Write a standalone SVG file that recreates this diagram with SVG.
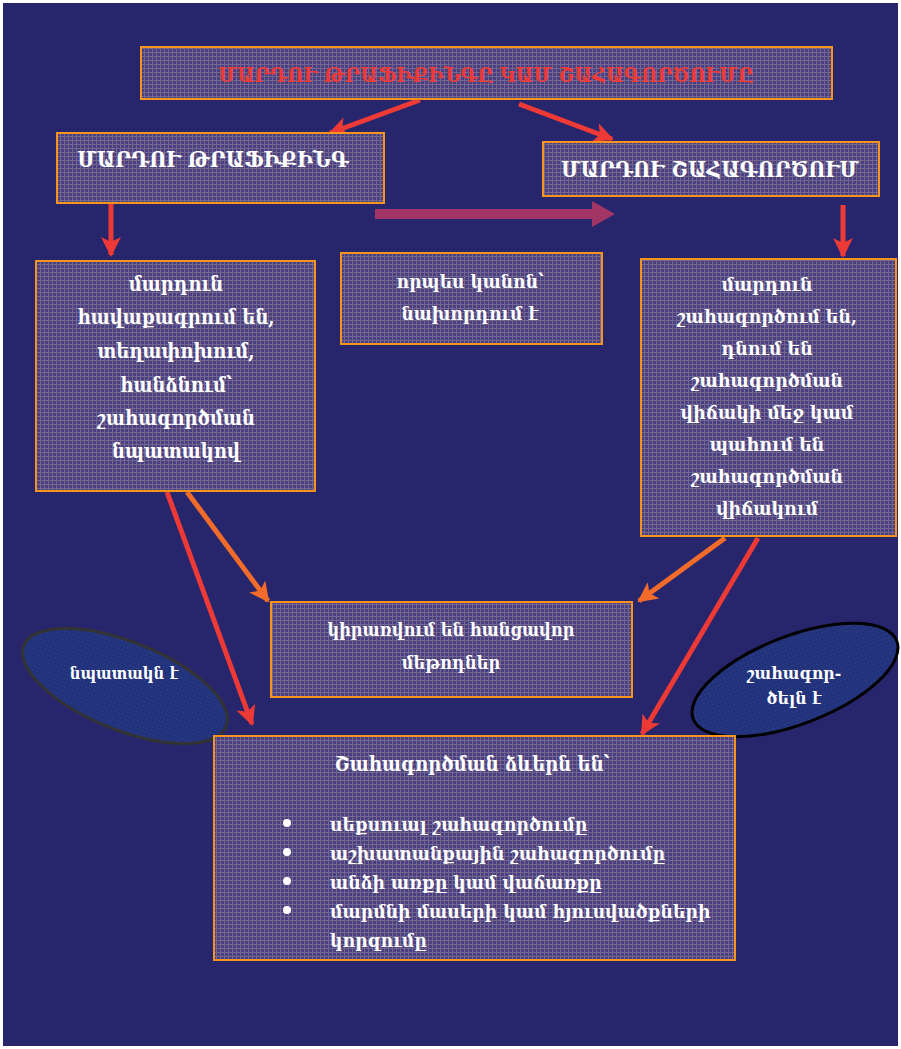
<svg xmlns="http://www.w3.org/2000/svg" width="901" height="1049" viewBox="0 0 901 1049">
<defs>
<pattern id="grid" width="4" height="4" patternUnits="userSpaceOnUse">
<rect width="4" height="4" fill="#4a3f80"/>
<rect x="0" y="0" width="4" height="1" fill="#74678f"/>
<rect x="0" y="0" width="1" height="4" fill="#74678f"/>
</pattern>
<pattern id="dots" width="4" height="4" patternUnits="userSpaceOnUse">
<rect width="4" height="4" fill="#22337c"/>
<rect x="1" y="1" width="1" height="1" fill="#34479a"/>
</pattern>
<marker id="ahR" viewBox="0 0 10 10" refX="9" refY="5" markerWidth="4.4" markerHeight="4" orient="auto" markerUnits="strokeWidth">
<path d="M0,0 L10,5 L0,10 L2.5,5 z" fill="#ee3a36"/>
</marker>
<marker id="ahO" viewBox="0 0 10 10" refX="9" refY="5" markerWidth="4.4" markerHeight="4" orient="auto" markerUnits="strokeWidth">
<path d="M0,0 L10,5 L0,10 L2.5,5 z" fill="#f26b2a"/>
</marker>
<style>
.box{fill:url(#grid);stroke:#f7941d;stroke-width:2}
.t{font-family:"DejaVu Serif Condensed","DejaVu Serif",serif;font-stretch:condensed;font-weight:bold;fill:#ffffff;text-anchor:middle}
.red{stroke:#ee3a36;stroke-width:5;fill:none;marker-end:url(#ahR)}
.org{stroke:#f26b2a;stroke-width:5;fill:none;marker-end:url(#ahO)}
.ell{fill:url(#dots);stroke-width:3}
</style>
</defs>
<rect x="0" y="0" width="901" height="1049" fill="#ffffff"/>
<rect x="3" y="3" width="895" height="1043" fill="#27266d"/>

<g id="connectors">
<line class="red" x1="420" y1="100" x2="330" y2="133"/>
<line class="red" x1="519" y1="104" x2="612" y2="139"/>
<line class="red" x1="111" y1="204" x2="111" y2="255"/>
<line class="red" x1="843" y1="205" x2="843" y2="256"/>
<path d="M375,209 L592,209 L592,201 L615,214 L592,227 L592,219 L375,219 z" fill="#a33466"/>
<line class="red" x1="167" y1="492" x2="252" y2="724"/>
<line class="org" x1="187" y1="492" x2="268" y2="601"/>
<line class="org" x1="725" y1="538" x2="639" y2="601"/>
<line class="red" x1="758" y1="538" x2="642" y2="734"/>
</g>

<g id="n-top">
<rect class="box" x="141" y="47" width="691" height="52"/>
<text class="t" x="486" y="82" font-size="21" style="fill:#ee3a36">ՄԱՐԴՈՒ ԹՐԱՖԻՔԻՆԳԸ ԿԱՄ ՇԱՀԱԳՈՐԾՈՒՄԸ</text>
</g>
<g id="n-trafficking">
<rect class="box" x="57" y="133" width="327" height="70"/>
<text class="t" x="213" y="167" font-size="22">ՄԱՐԴՈՒ ԹՐԱՖԻՔԻՆԳ</text>
</g>
<g id="n-exploitation">
<rect class="box" x="543" y="142" width="336" height="54"/>
<text class="t" x="710" y="177" font-size="22">ՄԱՐԴՈՒ ՇԱՀԱԳՈՐԾՈՒՄ</text>
</g>
<g id="n-left">
<rect class="box" x="36" y="261" width="279" height="230"/>
<text class="t" font-size="20"><tspan x="176" y="291">մարդուն</tspan><tspan x="176" y="324">հավաքագրում են,</tspan><tspan x="176" y="358">տեղափոխում,</tspan><tspan x="176" y="392">հանձնում՝</tspan><tspan x="176" y="425">շահագործման</tspan><tspan x="176" y="458">նպատակով</tspan></text>
</g>
<g id="n-middle">
<rect class="box" x="341" y="253" width="261" height="91"/>
<text class="t" font-size="19"><tspan x="470" y="288">որպես կանոն՝</tspan><tspan x="470" y="320">նախորդում է</tspan></text>
</g>
<g id="n-right">
<rect class="box" x="641" y="259" width="255" height="277"/>
<text class="t" font-size="19.3"><tspan x="767" y="291">մարդուն</tspan><tspan x="767" y="323">շահագործում են,</tspan><tspan x="767" y="355">դնում են</tspan><tspan x="767" y="387">շահագործման</tspan><tspan x="767" y="419">վիճակի մեջ կամ</tspan><tspan x="767" y="451">պահում են</tspan><tspan x="767" y="483">շահագործման</tspan><tspan x="767" y="515">վիճակում</tspan></text>
</g>
<g id="n-methods">
<rect class="box" x="271" y="602" width="361" height="95"/>
<text class="t" font-size="18"><tspan x="451" y="636">կիրառվում են հանցավոր</tspan><tspan x="451" y="669">մեթոդներ</tspan></text>
</g>
<g id="n-goal">
<ellipse class="ell" cx="125" cy="686" rx="109" ry="44" transform="rotate(21.8 125 686)" stroke="#333333"/>
<text class="t" x="124" y="679" font-size="16.5">նպատակն է</text>
</g>
<g id="n-exploit-ell">
<ellipse class="ell" cx="795" cy="680" rx="109" ry="44" transform="rotate(-21 795 680)" stroke="#000000"/>
<text class="t" font-size="17.5"><tspan x="794" y="679">շահագոր-</tspan><tspan x="794" y="704">ծելն է</tspan></text>
</g>
<g id="n-forms">
<rect class="box" x="214" y="736" width="521" height="224"/>
<text class="t" x="472" y="771" font-size="20">Շահագործման ձևերն են՝</text>
<g fill="#ffffff">
<circle cx="287" cy="823" r="4"/>
<circle cx="287" cy="852" r="4"/>
<circle cx="287" cy="881" r="4"/>
<circle cx="287" cy="910" r="4"/>
</g>
<text class="t" font-size="19.2" style="text-anchor:start"><tspan x="330" y="831">սեքսուալ շահագործումը</tspan><tspan x="330" y="860">աշխատանքային շահագործումը</tspan><tspan x="330" y="889">անձի առքը կամ վաճառքը</tspan><tspan x="330" y="918">մարմնի մասերի կամ հյուսվածքների</tspan><tspan x="330" y="947">կորզումը</tspan></text>
</g>
</svg>
